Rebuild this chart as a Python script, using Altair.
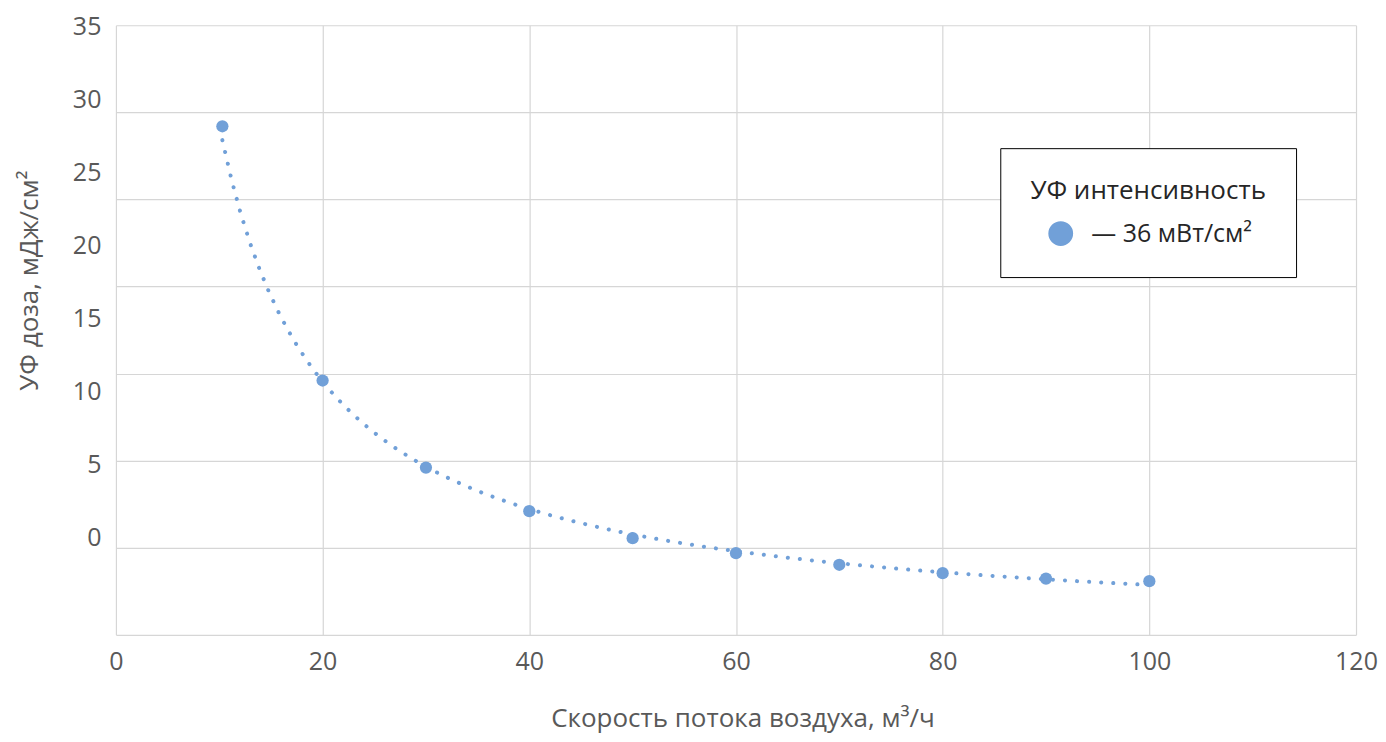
import altair as alt
import pandas as pd

# Data
flow = [10.3, 20, 30, 40, 50, 60, 70, 80, 90, 100]
dose = [29.2, 14.6, 9.6, 7.1, 5.55, 4.69, 4.02, 3.54, 3.23, 3.08]
series_name = "— 36 мВт/см²"
x_ticks = [0, 20, 40, 60, 80, 100, 120]
y_ticks = [0, 5, 10, 15, 20, 25, 30, 35]

df = pd.DataFrame({"flow": flow, "dose": dose, "series": [series_name] * len(flow)})

FONT = "Open Sans"
COLOR = "#71a0d8"
GRID = "#d6d6d6"
TEXT = "#595959"

x_enc = alt.X(
    "flow:Q",
    scale=alt.Scale(domain=[0, 120], nice=False, zero=False),
    axis=alt.Axis(
        values=x_ticks,
        title="Скорость потока воздуха, м³/ч",
        titleX=627,
        titleY=84,
        titleBaseline="middle",
        titleAlign="center",
        labelPadding=15,
        labelFlush=False,
        labelOverlap=False,
    ),
)
y_enc = alt.Y(
    "dose:Q",
    scale=alt.Scale(domain=[0, 35], nice=False, zero=False),
    axis=alt.Axis(
        values=y_ticks,
        title="УФ доза, мДж/см²",
        titleX=-86,
        titleY=255,
        titleBaseline="middle",
        titleAlign="center",
        labelPadding=15,
        labelFlush=False,
        labelOverlap=False,
        labelOffset={"expr": "1 - 2.8 * (35 - datum.value)"},
    ),
)

base = alt.Chart(df)

trend = base.transform_regression(
    "flow", "dose", method="pow", extent=[10.3, 100]
).mark_line(
    color=COLOR, strokeWidth=4, strokeDash=[0.1, 12], strokeCap="round"
).encode(x=x_enc, y=y_enc)

points = base.mark_circle(size=150, opacity=1).encode(
    x=x_enc,
    y=y_enc,
    color=alt.Color(
        "series:N",
        scale=alt.Scale(domain=[series_name], range=[COLOR]),
        legend=alt.Legend(
            title="УФ интенсивность",
            orient="none",
            legendX=885,
            legendY=123,
            padding=30,
            strokeColor="#000000",
            fillColor="#ffffff",
            titleAnchor="middle",
            titleFontSize=26,
            titleFont=FONT,
            titleFontWeight="normal",
            titleColor="#262626",
            titlePadding=17,
            titleLimit=500,
            labelFontSize=25,
            labelFont=FONT,
            labelColor="#262626",
            labelOffset=18,
            labelLimit=500,
            symbolSize=616,
            symbolType="circle",
            symbolStrokeWidth=0,
            symbolOffset=4,
        ),
    ),
)

chart = alt.layer(trend, points).properties(
    width=1241,
    height=610,
    autosize=alt.AutoSizeParams(type="none"),
    padding={"left": 108, "top": 17, "right": 22, "bottom": 100},
).configure_view(
    stroke=None
).configure_axis(
    grid=True,
    gridColor=GRID,
    gridWidth=1.2,
    domain=False,
    ticks=False,
    labelFont=FONT,
    labelFontSize=25,
    labelColor=TEXT,
    titleFont=FONT,
    titleFontSize=26,
    titleColor=TEXT,
    titleFontWeight="normal",
)

chart.save("out.html", embed_options={"renderer": "svg", "actions": False})
